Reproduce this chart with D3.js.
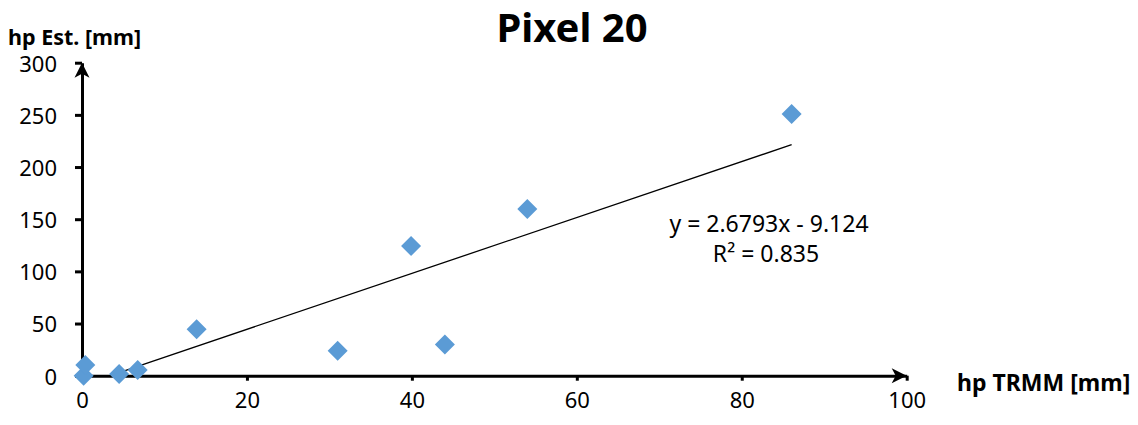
<!DOCTYPE html>
<head>
<meta charset="utf-8">
<style>
body, html {
  margin: 0;
  background: #fff;
  font-family: "Noto Sans", sans-serif;
}
.tick text {
  font-family: "Noto Sans", sans-serif;
  font-size: 22px;
  fill: #000;
}
.domain {
  stroke: #000;
  stroke-width: 3px;
}
.tick line {
  stroke: #000;
  stroke-width: 3px;
}
</style>
<script src="https://d3js.org/d3.v7.min.js"></script>
</head>
<body>
<script>

// hp TRMM vs hp estimated, pixel 20
var trmm = [0.2, 0.4, 4.5, 6.75, 13.9, 31.0, 39.9, 44.0, 54.0, 86.05];
var est  = [0,   10.2, 1.6, 5.5,  44.5, 24.0, 124.4, 30.0, 159.8, 250.8];
var xTicks = [0, 20, 40, 60, 80, 100];
var yTicks = [0, 50, 100, 150, 200, 250, 300];
var slope = 2.6793, intercept = -9.124, r2 = 0.835;

var width = 1138,
    height = 425;

var x = d3.scaleLinear().domain([0, 100]).range([82, 906.7]);
var y = d3.scaleLinear().domain([0, 300]).range([375.7, 62.7]);

var svg = d3.select('body').append('svg')
    .attr('width', width)
    .attr('height', height);

svg.append('defs').append('clipPath').attr('id', 'plot')
  .append('rect')
    .attr('x', x(0)).attr('y', y(300))
    .attr('width', x(100) - x(0)).attr('height', y(0) - y(300));

//--------------------------------------
// axes
var xAxis = svg.append('g')
    .attr('transform', 'translate(0,' + y(0) + ')')
    .call(d3.axisBottom(x).tickValues(xTicks).tickSize(5).tickSizeOuter(0).tickPadding(12));

var yAxis = svg.append('g')
    .attr('transform', 'translate(' + x(0) + ',0)')
    .call(d3.axisLeft(y).tickValues(yTicks).tickSize(7).tickSizeOuter(0).tickPadding(18));

yAxis.selectAll('.tick text').attr('dy', '0.38em');

// arrow heads
function arrow(g, tx, ty, angle) {
  g.append('path')
    .attr('d', 'M0,0 L-15,-7.5 L-11,0 L-15,7.5 Z')
    .attr('transform', 'translate(' + tx + ',' + ty + ') rotate(' + angle + ')')
    .attr('fill', '#000');
}
arrow(svg, x(100), y(0), 0);
arrow(svg, x(0), y(300), -90);

//--------------------------------------
// trendline (clipped to plot area like excel)
var xmin = d3.min(trmm), xmax = d3.max(trmm);
svg.append('line')
    .attr('clip-path', 'url(#plot)')
    .attr('x1', x(xmin)).attr('y1', y(slope * xmin + intercept))
    .attr('x2', x(xmax)).attr('y2', y(slope * xmax + intercept))
    .attr('stroke', '#000')
    .attr('stroke-width', 1.3);

// points
svg.append('g').selectAll('path')
    .data(d3.zip(trmm, est))
  .enter().append('path')
    .attr('d', 'M0,-10 L10,0 L0,10 L-10,0 Z')
    .attr('transform', function(d) { return 'translate(' + x(d[0]) + ',' + y(d[1]) + ')'; })
    .attr('fill', '#5b9bd5');

//--------------------------------------
// texts
svg.append('text')
    .attr('x', 572).attr('y', 42)
    .attr('text-anchor', 'middle')
    .style('font-size', '40px')
    .style('font-weight', 'bold')
    .text('Pixel 20');

svg.append('text')
    .attr('x', 8).attr('y', 45)
    .style('font-size', '21.5px')
    .style('font-weight', 'bold')
    .text('hp Est. [mm]');

svg.append('text')
    .attr('x', 957).attr('y', 391)
    .style('font-size', '23px')
    .style('font-weight', 'bold')
    .text('hp TRMM [mm]');

svg.append('text')
    .attr('x', 769).attr('y', 232)
    .attr('text-anchor', 'middle')
    .style('font-size', '23px')
    .text('y = ' + slope + 'x - ' + Math.abs(intercept));

svg.append('text')
    .attr('x', 766).attr('y', 262)
    .attr('text-anchor', 'middle')
    .style('font-size', '23px')
    .text('R² = ' + r2);

</script>
</body>
